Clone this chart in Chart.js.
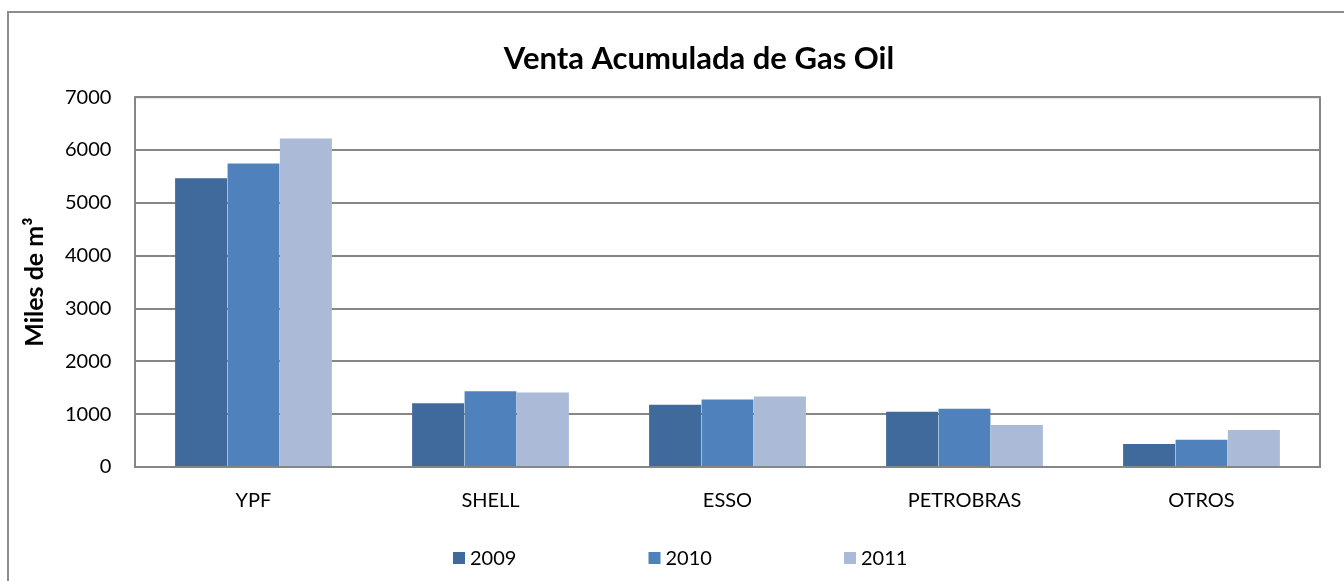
<!DOCTYPE html>
<html>
<head>
<meta charset="utf-8">
<script src="https://cdn.jsdelivr.net/npm/chart.js@4.4.0/dist/chart.umd.min.js"></script>
<style>
  html, body { margin: 0; padding: 0; background: #fff; overflow: hidden; }
  #frame {
    position: absolute; left: 7px; top: 11px;
    width: 1372px; height: 600px;
    border: 2px solid #8c8c8c;
    background: #fff;
  }
  #chartBox { position: absolute; left: 0; top: 0; width: 1372px; height: 600px; }
</style>
</head>
<body>
<div id="frame"><div id="chartBox"><canvas id="myChart"></canvas></div></div>
<script>
// Data (thousands of m3)
const companies = ['YPF', 'SHELL', 'ESSO', 'PETROBRAS', 'OTROS'];
const years = ['2009', '2010', '2011'];
const ventas2009 = [5485, 1228, 1196, 1063, 453];
const ventas2010 = [5762, 1454, 1296, 1120, 535];
const ventas2011 = [6235, 1428, 1352, 812, 718];
const yTicks = [0, 1000, 2000, 3000, 4000, 5000, 6000, 7000];

const colors = ['#416a9c', '#4f81bd', '#aabad7'];
const FONT = 'Lato, "Open Sans", sans-serif';

// frame around the plot area (Excel style)
const plotFrame = {
  id: 'plotFrame',
  afterDraw(chart) {
    const a = chart.chartArea;
    const ctx = chart.ctx;
    ctx.save();
    ctx.strokeStyle = '#868686';
    ctx.lineWidth = 2;
    ctx.strokeRect(a.left, a.top, a.right - a.left, a.bottom - a.top);
    ctx.restore();
  }
};

// wide-spaced legend below the axis, like the Excel one
const wideLegend = {
  id: 'wideLegend',
  afterDraw(chart) {
    const ctx = chart.ctx;
    const step = 195.5;
    const startX = chart.width / 2 - 242;
    const y = chart.chartArea.bottom + 91;
    ctx.save();
    ctx.font = '20px ' + FONT;
    ctx.textBaseline = 'middle';
    chart.data.datasets.forEach((ds, i) => {
      const x = startX + i * step;
      ctx.fillStyle = ds.backgroundColor;
      ctx.fillRect(x, y - 6, 12, 12);
      ctx.fillStyle = '#000';
      ctx.fillText(ds.label, x + 17, y + 1);
    });
    ctx.restore();
  }
};

const ctx = document.getElementById('myChart').getContext('2d');
new Chart(ctx, {
  type: 'bar',
  data: {
    labels: companies,
    datasets: [
      { label: years[0], data: ventas2009, backgroundColor: colors[0] },
      { label: years[1], data: ventas2010, backgroundColor: colors[1] },
      { label: years[2], data: ventas2011, backgroundColor: colors[2] }
    ]
  },
  options: {
    responsive: true,
    maintainAspectRatio: false,
    animation: false,
    // left padding shifts the centred title to where Excel put it
    layout: { padding: { left: 69, right: 61, top: 0, bottom: 106 } },
    datasets: {
      bar: {
        barPercentage: 1,
        categoryPercentage: 0.662,
        borderWidth: { top: 1, left: 0, right: 0, bottom: 0 },
        borderColor: 'rgba(255,255,255,0.5)'
      }
    },
    plugins: {
      title: {
        display: true,
        text: 'Venta Acumulada de Gas Oil',
        color: '#000',
        font: { family: FONT, size: 31, weight: 'bold' },
        padding: { top: 27, bottom: 20 }
      },
      legend: { display: false },
      tooltip: { enabled: false }
    },
    scales: {
      x: {
        afterFit(scale) { scale.height = 40; },
        grid: { display: false },
        border: { display: false },
        ticks: { color: '#000', font: { family: FONT, size: 20 }, padding: 14 }
      },
      y: {
        min: 0,
        max: 7000,
        afterBuildTicks(scale) {
          scale.ticks = yTicks.map(v => ({ value: v }));
        },
        afterFit(scale) { scale.width = 57; },
        grid: { color: '#868686', lineWidth: 2, drawTicks: false },
        border: { display: false },
        // mirrored + negative padding: labels sit left of the plot without being clipped
        ticks: {
          color: '#000',
          font: { family: FONT, size: 20 },
          mirror: true,
          crossAlign: 'far',
          padding: -70,
          callback: v => String(v)
        },
        title: {
          display: true,
          text: 'Miles de m³',
          color: '#000',
          font: { family: FONT, size: 25, weight: 'bold' },
          padding: { top: -58, bottom: 0 }
        }
      }
    }
  },
  plugins: [plotFrame, wideLegend]
});
</script>
</body>
</html>
